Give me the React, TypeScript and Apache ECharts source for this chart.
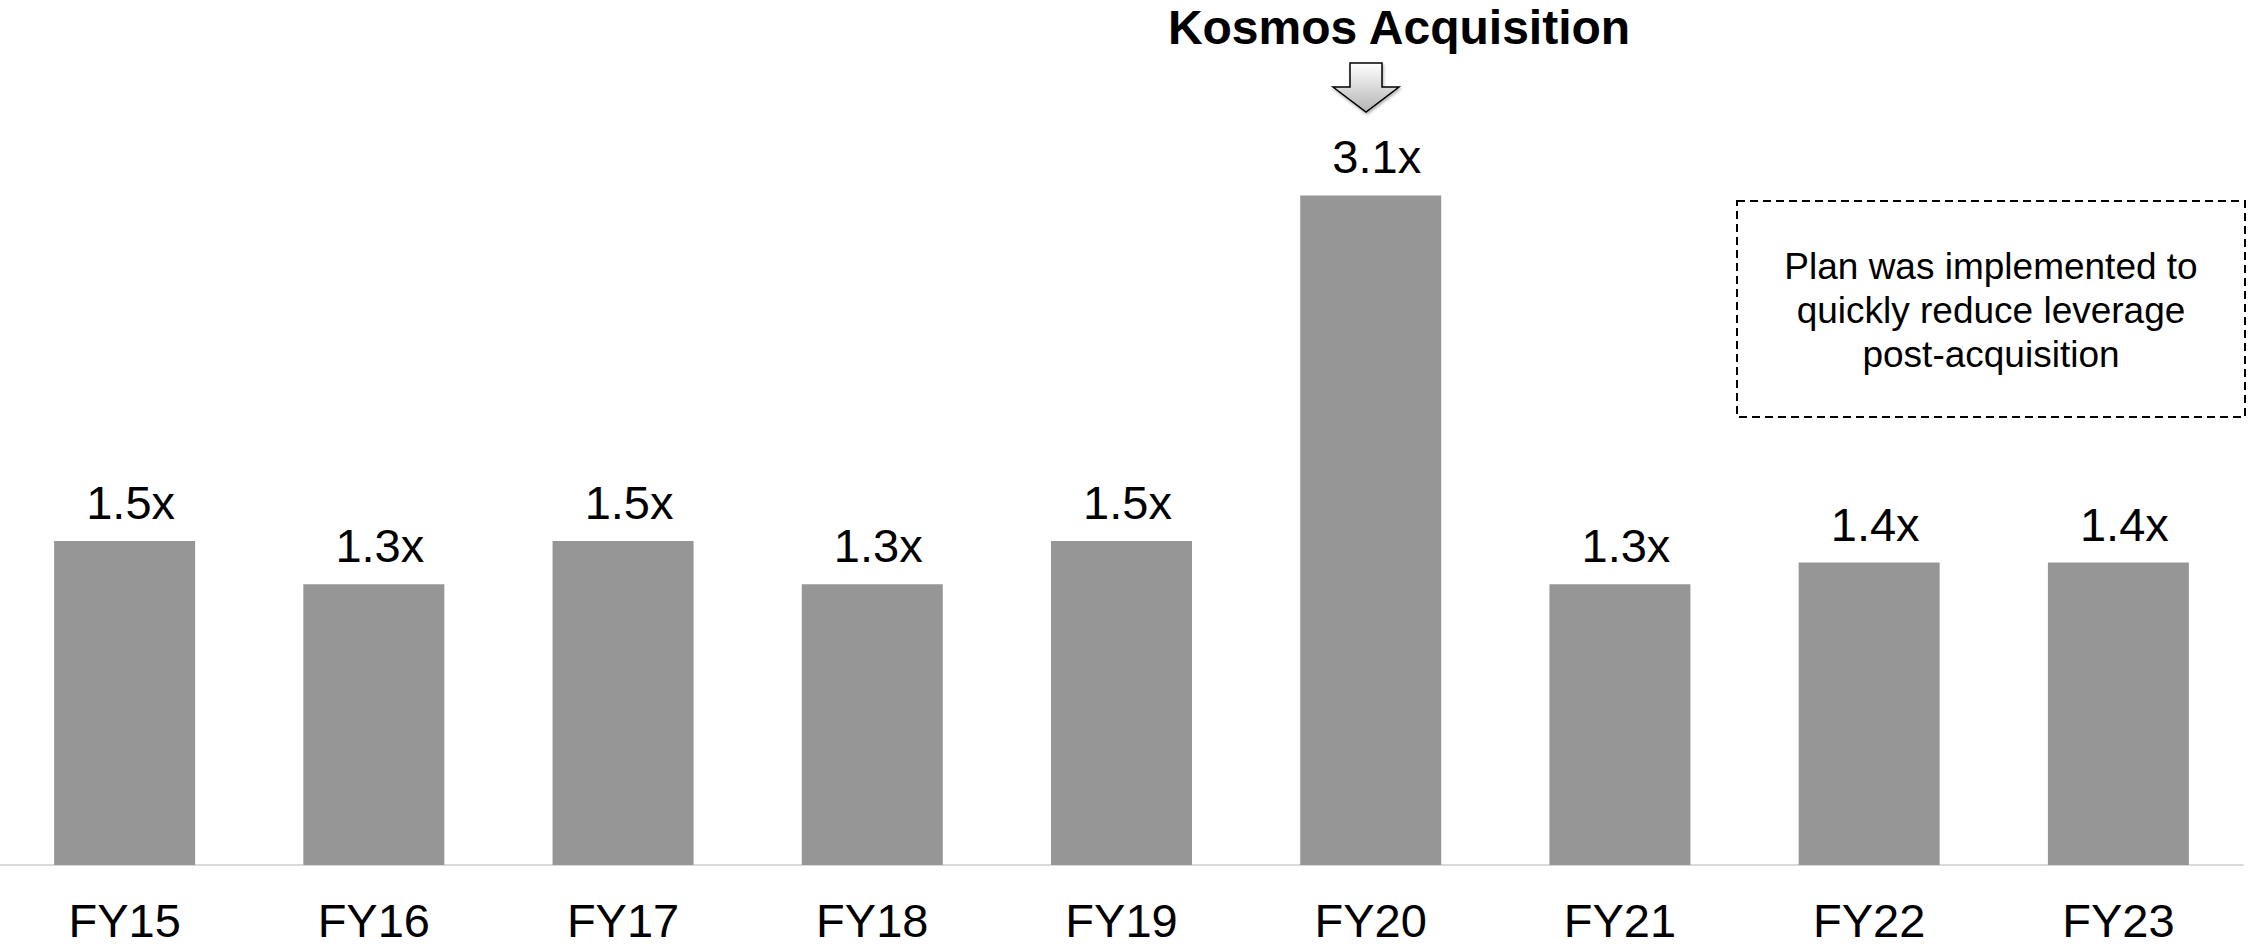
import React, { useEffect, useRef } from "react";
import * as echarts from "echarts";

const categories = ["FY15", "FY16", "FY17", "FY18", "FY19", "FY20", "FY21", "FY22", "FY23"];
const leverage = [1.5, 1.3, 1.5, 1.3, 1.5, 3.1, 1.3, 1.4, 1.4];
const eventTitle = "Kosmos Acquisition";
const noteLines = ["Plan was implemented to", "quickly reduce leverage", "post-acquisition"];

const FONT = '"Liberation Sans", Arial, Helvetica, sans-serif';

export default function App() {
  const ref = useRef<HTMLDivElement>(null);

  useEffect(() => {
    if (!ref.current) return;
    const chart = echarts.init(ref.current, undefined, { renderer: "svg" });
    chart.setOption({
      animation: false,
      backgroundColor: "#ffffff",
      textStyle: { fontFamily: FONT },
      grid: { left: 0, right: 6, top: 1, bottom: 81, containLabel: false },
      xAxis: {
        type: "category",
        data: categories,
        axisLine: { show: true, lineStyle: { color: "#d9d9d9", width: 2 } },
        axisTick: { show: false },
        axisLabel: { fontSize: 47, color: "#000000", margin: 32, fontFamily: FONT },
        splitLine: { show: false },
      },
      yAxis: {
        type: "value",
        min: 0,
        max: 4,
        show: false,
        splitLine: { show: false },
      },
      series: [
        {
          type: "bar",
          data: leverage,
          barWidth: 141,
          itemStyle: { color: "#969696" },
          label: {
            show: true,
            position: "top",
            distance: 15,
            offset: [6, 0],
            fontSize: 47,
            color: "#000000",
            fontFamily: FONT,
            formatter: (p: any) => Number(p.value).toFixed(1) + "x",
          },
        },
      ],
      graphic: [
        {
          type: "text",
          x: 1399,
          y: 27,
          style: {
            text: eventTitle,
            fontFamily: FONT,
            fontWeight: "bold",
            fontSize: 48,
            fill: "#000000",
            align: "center",
            verticalAlign: "middle",
          },
        },
        {
          type: "polygon",
          shape: {
            points: [
              [1350, 63],
              [1382, 63],
              [1382, 87],
              [1399, 87],
              [1366, 112],
              [1333, 87],
              [1350, 87],
            ],
          },
          style: {
            fill: new echarts.graphic.LinearGradient(0, 0, 0, 1, [
              { offset: 0, color: "#ffffff" },
              { offset: 1, color: "#b4b4b4" },
            ]),
            stroke: "#000000",
            lineWidth: 1.5,
            shadowBlur: 3,
            shadowOffsetX: 1,
            shadowOffsetY: 2,
            shadowColor: "rgba(0,0,0,0.3)",
          },
        },
        {
          type: "rect",
          shape: { x: 1737, y: 201, width: 508, height: 216 },
          style: {
            fill: "none",
            stroke: "#000000",
            lineWidth: 2,
            lineDash: [8, 5],
          },
        },
        {
          type: "text",
          x: 1991,
          y: 310,
          style: {
            text: noteLines.join("\n"),
            fontFamily: FONT,
            fontSize: 37,
            lineHeight: 44,
            fill: "#000000",
            align: "center",
            verticalAlign: "middle",
          },
        },
      ],
    });
    return () => chart.dispose();
  }, []);

  return (
    <div
      ref={ref}
      style={{ position: "absolute", left: 0, top: 0, width: 2249, height: 946 }}
    />
  );
}
